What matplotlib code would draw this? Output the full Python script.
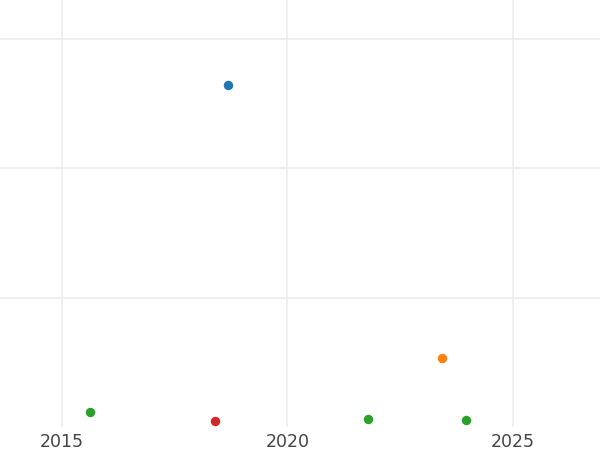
import matplotlib
matplotlib.use("Agg")
import matplotlib.pyplot as plt

# data
years = [2018.68, 2015.61, 2018.40, 2021.78, 2023.43, 2023.96]
values = [264.8, 11.6, 5.0, 6.1, 53.3, 5.4]
colors = ["#1f77b4", "#2ca02c", "#d62728", "#2ca02c", "#ff7f0e", "#2ca02c"]
xticks = [2015, 2020, 2025]
yticks = [100, 200, 300]

fig = plt.figure(figsize=(6, 4.5), dpi=100)
ax = fig.add_axes([0, 23 / 450, 1, 427 / 450])

for x, y, c in zip(years, values, colors):
    ax.plot(x, y, "o", color=c, markersize=6.8, markeredgewidth=0, zorder=3)

ax.set_xlim(2013.625, 2026.93)
ax.set_ylim(0, 330.2)
ax.set_xticks(xticks)
ax.set_xticklabels([str(t) for t in xticks])
ax.set_yticks(yticks)
ax.set_yticklabels([])
ax.grid(True, color="#ebebeb", linewidth=1.1)
ax.set_axisbelow(True)
ax.tick_params(length=0, pad=4, labelsize=12.5, labelcolor="#444444")
for s in ax.spines.values():
    s.set_visible(False)

fig.savefig("out.png", dpi=100)
